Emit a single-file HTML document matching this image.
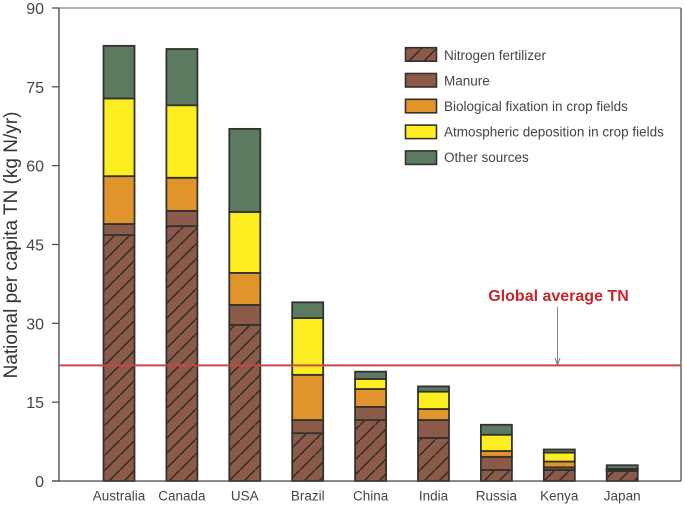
<!DOCTYPE html>
<html>
<head>
<meta charset="utf-8">
<style>
html,body{margin:0;padding:0;background:#fff;width:685px;height:505px;overflow:hidden}
svg{display:block;font-family:"Liberation Sans",sans-serif;filter:blur(0.3px)}
</style>
</head>
<body>
<svg id="chart" width="685" height="505" viewBox="0 0 685 505" xmlns="http://www.w3.org/2000/svg">
<defs>
<pattern id="hatch" patternUnits="userSpaceOnUse" width="15" height="15" x="0" y="5">
<rect width="15" height="15" fill="#8b5a48"/>
<line x1="-1" y1="16" x2="16" y2="-1" stroke="#2e2b28" stroke-width="1.5"/>
</pattern>
</defs>
<g id="bars"></g>
<g id="axes"></g>
<g id="legend"></g>
<text transform="translate(17,245) rotate(-90)" text-anchor="middle" font-size="19" fill="#333">National per capita TN (kg N/yr)</text>
<text x="558.5" y="301" text-anchor="middle" font-size="16" font-weight="bold" fill="#c4262c">Global average TN</text>
<line x1="557.5" y1="307" x2="557.5" y2="364" stroke="#8a8a8a" stroke-width="1"/>
<path d="M555 358 L557.5 365 L560 358" fill="none" stroke="#777" stroke-width="1"/>
<line id="avg-line" x1="59" x2="681" stroke="#c8474a" stroke-width="2"/>
</svg>
<script>
const categories = ["Australia","Canada","USA","Brazil","China","India","Russia","Kenya","Japan"];
const seriesNames = ["Nitrogen fertilizer","Manure","Biological fixation in crop fields","Atmospheric deposition in crop fields","Other sources"];
const fertilizer = [46.8,48.5,29.7,9.1,11.6,8.2,2.1,2.1,1.9];
const manure = [2.1,2.9,3.8,2.5,2.5,3.4,2.5,0.5,0.2];
const biological = [9.1,6.3,6.1,8.6,3.4,2.1,1.1,1.1,0.1];
const atmospheric = [14.8,13.8,11.6,10.8,1.9,3.3,3.1,1.7,0.1];
const otherSources = [10.0,10.7,15.8,3.0,1.4,1.0,1.9,0.6,0.7];
const globalAverage = 22;
const yTicks = [0,15,30,45,60,75,90];

const NS = "http://www.w3.org/2000/svg";
const fills = ["url(#hatch)","#8b5a48","#e2942c","#fdee21","#5b7a5f"];
const allSeries = [fertilizer,manure,biological,atmospheric,otherSources];
const yScale = v => 481 - v * (473 / 90);
const xScale = i => 119 + i * 62.9;
const BAR_W = 31;

function mk(tag, attrs, parent, txt){
  const el = document.createElementNS(NS, tag);
  for (const k in attrs) el.setAttribute(k, attrs[k]);
  if (txt !== undefined) el.textContent = txt;
  parent.appendChild(el);
  return el;
}

const barsG = document.getElementById("bars");
const axesG = document.getElementById("axes");
const legendG = document.getElementById("legend");

categories.forEach((cat, i) => {
  let base = 0;
  allSeries.forEach((values, s) => {
    const top = base + values[i];
    const r = mk("rect", {x: xScale(i) - BAR_W/2, y: yScale(top), width: BAR_W, height: yScale(base) - yScale(top), fill: fills[s], stroke: "#33322e", "stroke-width": 1.8}, barsG);
    
    
    base = top;
  });
  const t = mk("text", {x: xScale(i), y: 500.5, "text-anchor": "middle", "font-size": 13.5, fill: "#444"}, axesG, cat);
  
  
});

yTicks.forEach(v => {
  const tk = mk("line", {x1: 52, x2: 59, y1: yScale(v), y2: yScale(v), stroke: "#444", "stroke-width": 1.2}, axesG);
  
  
  const t = mk("text", {x: 44, y: yScale(v) + 6, "text-anchor": "end", "font-size": 16, fill: "#444"}, axesG, String(v));
  
  
});

const leftAxis = mk("line", {x1: 59, x2: 59, y1: 7.5, y2: 481.5, stroke: "#444", "stroke-width": 1.3}, axesG);


const bottomAxis = mk("line", {x1: 52, x2: 681, y1: 481, y2: 481, stroke: "#444", "stroke-width": 1.3}, axesG);


const topFrame = mk("line", {x1: 59, x2: 681, y1: 8, y2: 8, stroke: "#666", "stroke-width": 1}, axesG);


const rightFrame = mk("line", {x1: 681, x2: 681, y1: 8, y2: 481, stroke: "#444", "stroke-width": 1.2}, axesG);



const avg = document.getElementById("avg-line");
avg.setAttribute("y1", yScale(globalAverage));
avg.setAttribute("y2", yScale(globalAverage));

seriesNames.forEach((name, s) => {
  const ly = 47.7 + s * 25.8;
  const sw = mk("rect", {x: 405.5, y: ly, width: 31, height: 13.5, fill: fills[s], stroke: "#33322e", "stroke-width": 1.6}, legendG);
  
  
  const t = mk("text", {x: 444, y: 59.8 + s * 25.5, "font-size": 13.5, fill: "#444"}, legendG, name);
  
  
});
</script>
</body>
</html>
